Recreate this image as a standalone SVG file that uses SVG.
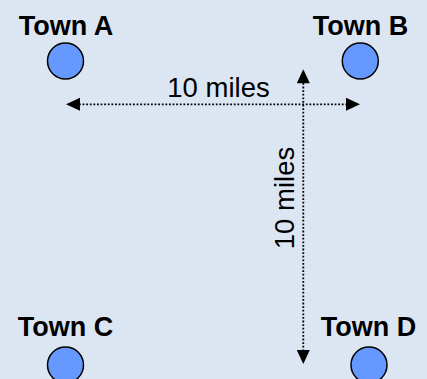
<svg xmlns="http://www.w3.org/2000/svg" width="427" height="379" viewBox="0 0 427 379">
<style>
.lbl{font-family:"Liberation Sans",Arial,sans-serif;font-weight:bold;font-size:27px;fill:#000;text-anchor:middle}
.dist{font-family:"Liberation Sans",Arial,sans-serif;font-size:27.5px;fill:#000;text-anchor:middle}
.town{fill:#6699ff;stroke:#000;stroke-width:1.5}
.conn{stroke:#000;stroke-width:1.8;stroke-dasharray:1.8 1.8;fill:none}
.head{fill:#000}
</style>
<defs>
<path id="ah" d="M0,0 L-14,-6.5 L-14,6.5 Z"/>
</defs>
<rect width="427" height="379" fill="#dce6f2"/>
<g id="townA"><text class="lbl" x="66" y="35">Town A</text><circle class="town" cx="65.5" cy="61" r="18"/></g>
<g id="townB"><text class="lbl" x="360.5" y="35">Town B</text><circle class="town" cx="360.3" cy="61" r="18"/></g>
<g id="townC"><text class="lbl" x="65.5" y="336">Town C</text><circle class="town" cx="65.5" cy="365" r="18"/></g>
<g id="townD"><text class="lbl" x="368.5" y="336">Town D</text><circle class="town" cx="369" cy="365" r="18"/></g>
<g id="connectors">
<line class="conn" x1="79" y1="104.3" x2="347" y2="104.3"/>
<line class="conn" x1="303.3" y1="83" x2="303.3" y2="350"/>
<use href="#ah" class="head" transform="translate(360,104.3)"/>
<use href="#ah" class="head" transform="translate(66,104.3) rotate(180)"/>
<use href="#ah" class="head" transform="translate(303.3,69.3) rotate(-90)"/>
<use href="#ah" class="head" transform="translate(303.3,364) rotate(90)"/>
<text class="dist" x="218.5" y="96.7">10 miles</text>
<text class="dist" transform="translate(293.5,198) rotate(-90)" x="0" y="0">10 miles</text>
</g>
</svg>
